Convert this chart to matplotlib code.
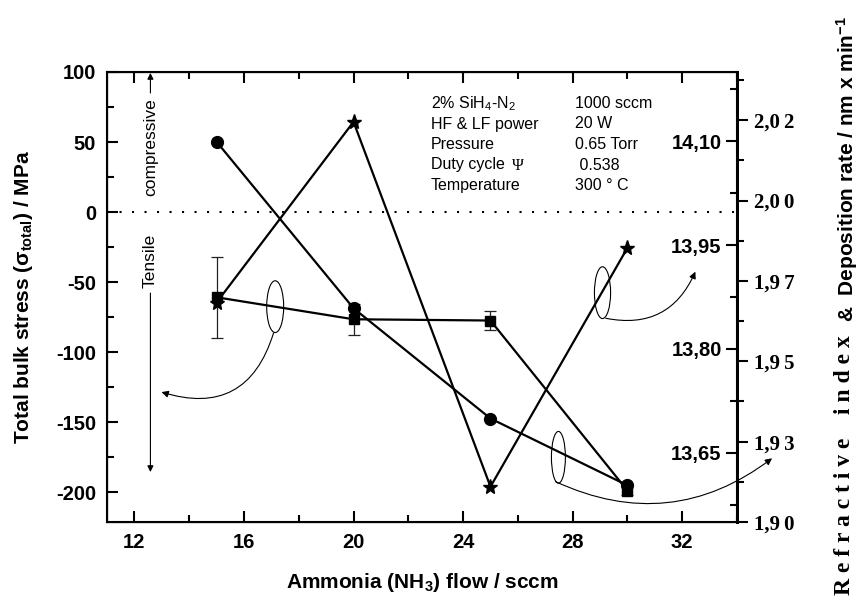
import matplotlib
matplotlib.use("Agg")
import matplotlib.pyplot as plt
from matplotlib.patches import Ellipse, FancyArrowPatch
from matplotlib.ticker import MultipleLocator

plt.rcParams['font.family'] = ['Liberation Sans', 'DejaVu Sans']
plt.rcParams['mathtext.fontset'] = 'custom'
plt.rcParams['mathtext.rm'] = 'Liberation Sans'
plt.rcParams['mathtext.bf'] = 'Liberation Sans:bold'
plt.rcParams['mathtext.it'] = 'Liberation Sans:italic'
plt.rcParams['axes.unicode_minus'] = False

# data
nh3_flow = [15, 20, 25, 30]
stress = [-60.9, -76.6, -77.5, -199.0]
stress_err = [29.0, 11.0, 6.5, 3.0]
refr_index = [2.0183, 1.9665, 1.9322, 1.9114]
dep_rate = [13.867, 14.128, 13.601, 13.946]

ri_ticks = [1.900, 1.925, 1.950, 1.975, 2.000, 2.025]
ri_labels = ['1,9\u20090', '1,9\u20093', '1,9\u20095', '1,9\u20097',
             '2,0\u20090', '2,0\u20092']
dep_ticks = [13.65, 13.80, 13.95, 14.10]
dep_labels = ['13,65', '13,80', '13,95', '14,10']

process_names = ['2% SiH$_4$-N$_2$', 'HF & LF power', 'Pressure',
                 'Duty cycle', 'Temperature']
process_values = ['1000 sccm', '20 W', '0.65 Torr', ' 0.538', '300 ° C']

W, H = 859, 596
fig = plt.figure(figsize=(W / 100, H / 100), dpi=100)
ax = fig.add_axes([107 / W, 1 - 522 / H, 630 / W, 450 / H])
ax2 = ax.twinx()   # refractive index (outer scale)
ax3 = ax.twinx()   # deposition rate (inner scale)

# --- stress (left axis)
ax.errorbar(nh3_flow, stress, yerr=stress_err, color='black', lw=1.6,
            marker='s', ms=7, ecolor='#222222', elinewidth=0.9,
            capsize=4, capthick=0.9, zorder=3)
ax.axhline(0, color='black', lw=1.5, ls=(0, (1, 5)))
ax.set_xlim(11, 34)
ax.set_ylim(-221.4, 100)
ax.xaxis.set_major_locator(MultipleLocator(4))
ax.xaxis.set_minor_locator(MultipleLocator(2))
ax.yaxis.set_major_locator(MultipleLocator(50))
ax.yaxis.set_minor_locator(MultipleLocator(25))
ax.tick_params(which='both', direction='in', top=True, right=False,
               width=1.5, labelsize=14.5, pad=8)
ax.tick_params(which='major', length=8)
ax.tick_params(which='minor', length=5)
for lbl in ax.get_xticklabels() + ax.get_yticklabels():
    lbl.set_fontweight('bold')
for sp in ax.spines.values():
    sp.set_linewidth(1.5)

ax.set_xlabel('Ammonia (NH$_\\mathbf{3}$) flow / sccm', fontsize=15,
              fontweight='bold')
ax.xaxis.set_label_coords(0.5, -0.108)
ax.set_ylabel('Total bulk stress (σ$_\\mathbf{total}$) / MPa', fontsize=15,
              fontweight='bold')
ax.yaxis.set_label_coords(-0.115, 0.5)

# --- refractive index (outer right axis)
ax2.plot(nh3_flow, refr_index, color='black', lw=1.6, marker='o', ms=8.5)
ax2.set_ylim(1.90, 2.04)
ax2.set_yticks(ri_ticks, ri_labels,
               fontfamily=['Liberation Serif', 'DejaVu Serif'],
               fontweight='bold', fontsize=15)
ax2.yaxis.set_minor_locator(MultipleLocator(0.0125))
ax2.tick_params(axis='y', which='both', direction='out', width=1.5, pad=4)
ax2.tick_params(axis='y', which='major', length=8)
ax2.tick_params(axis='y', which='minor', length=5)
ax2.spines['right'].set_linewidth(2)

# --- deposition rate (inner right axis, labels inside the frame)
ax3.plot(nh3_flow, dep_rate, color='black', lw=1.6, marker='*', ms=11)
ax3.set_ylim(13.55, 14.20)
ax3.set_yticks(dep_ticks, dep_labels, fontweight='bold', fontsize=14.5)
ax3.yaxis.set_minor_locator(MultipleLocator(0.075))
ax3.tick_params(axis='y', which='both', direction='in', width=1.5, pad=-11)
ax3.tick_params(axis='y', which='major', length=8)
ax3.tick_params(axis='y', which='minor', length=5)
for lbl in ax3.get_yticklabels():
    lbl.set_horizontalalignment('right')
ax3.spines['right'].set_linewidth(2)

# right axis title: serif part + sans part
fig.text(845 / W, 0.002, 'R e f r a c t i v e    i n d e x',
         rotation=90, ha='center', va='bottom', family='Liberation Serif',
         fontweight='bold', fontsize=17)
fig.text(847 / W, 1 - 322 / H, '&  Deposition rate / nm x min$^\\mathbf{-1}$',
         rotation=90, ha='center', va='bottom', fontweight='bold',
         fontsize=15)

# --- process conditions
for i, (name, val) in enumerate(zip(process_names, process_values)):
    yb = 1 - (108 + 20.5 * i) / H
    fig.text(431 / W, yb, name, fontsize=11.5, va='baseline')
    fig.text(575 / W, yb, val, fontsize=11.5, va='baseline')
fig.text(512 / W, 1 - (108 + 20.5 * 3) / H, 'Ψ', family='Liberation Serif',
         fontsize=11.5, va='baseline')

# --- compressive / tensile
ax.text(12.585, 46.4, 'compressive', rotation=90, ha='center', va='center',
        fontsize=12.5)
ax.text(12.585, -35, 'Tensile', rotation=90, ha='center', va='center',
        fontsize=12.5)
ax.annotate('', xy=(12.585, 99.3), xytext=(12.585, 85),
            arrowprops=dict(arrowstyle='-|>', lw=0.8, color='black',
                            shrinkA=0, shrinkB=0, mutation_scale=9))
ax.annotate('', xy=(12.585, -185.7), xytext=(12.585, -57.9),
            arrowprops=dict(arrowstyle='-|>', lw=0.8, color='black',
                            shrinkA=0, shrinkB=0, mutation_scale=9))

# --- ellipses pointing to the axes
ell_specs = [((17.14, -67.6), 0.62), ((29.09, -57.6), 0.59), ((27.48, -175.2), 0.51)]
for center, w in ell_specs:
    ax.add_patch(Ellipse(center, w, 37, fill=False, lw=0.8, ec='black'))

arrow_specs = [((17.08, -86.4), (12.99, -128.6), -0.5),
               ((29.21, -75.9), (32.48, -42.6), 0.4),
               ((27.38, -192.6), (35.28, -175.9), 0.3)]
for start, end, rad in arrow_specs:
    ax.add_patch(FancyArrowPatch(start, end, connectionstyle=f'arc3,rad={rad}',
                                 arrowstyle='-|>', mutation_scale=10, lw=0.8,
                                 color='black', shrinkA=0, shrinkB=0,
                                 clip_on=False))

fig.savefig('out.png', dpi=100)
